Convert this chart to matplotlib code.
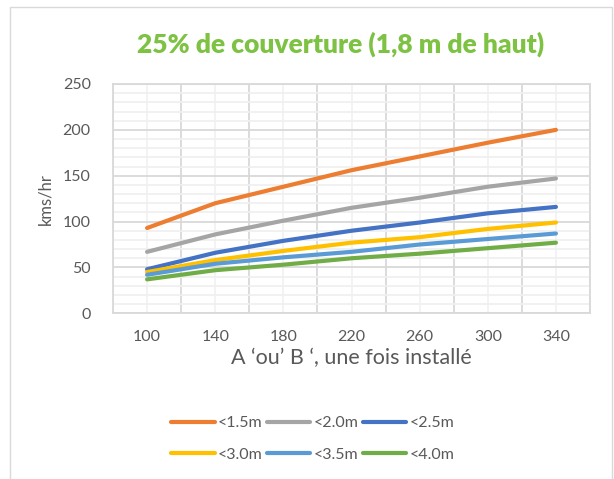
import matplotlib
matplotlib.use("Agg")
import matplotlib.pyplot as plt
from matplotlib.patches import Rectangle
from matplotlib.ticker import MultipleLocator, FixedLocator

# données
categories = ["100", "140", "180", "220", "260", "300", "340"]
serie_15 = [93, 120, 138, 156, 171, 186, 200]
serie_20 = [67, 86, 101, 115, 126, 138, 147]
serie_25 = [48, 66, 79, 90, 99, 109, 116]
serie_30 = [45, 58, 68, 77, 83, 92, 99]
serie_35 = [42, 54, 61, 67, 75, 81, 87]
serie_40 = [37, 47, 53, 60, 65, 71, 77]
noms = ["<1.5m", "<2.0m", "<2.5m", "<3.0m", "<3.5m", "<4.0m"]
couleurs = ["#ED7D31", "#A5A5A5", "#4472C4", "#FFC000", "#5B9BD5", "#70AD47"]

plt.rcParams['font.family'] = ['Lato', 'DejaVu Sans']
gris = "#595959"

fig = plt.figure(figsize=(6.14, 4.79), dpi=100)
ax = fig.add_axes([113/614, 1-313.3/479, (590-113)/614, (313.3-84)/479])

# cadre du graphique
fig.patches.append(Rectangle((10/614, -0.02), 602/614, 1.02-7/479, transform=fig.transFigure,
                             fill=False, edgecolor="#d9d9d9", linewidth=1))

x = list(range(len(categories)))
lignes = []
for vals, nom, c in zip([serie_15, serie_20, serie_25, serie_30, serie_35, serie_40], noms, couleurs):
    l, = ax.plot(x, vals, color=c, linewidth=3, label=nom, solid_capstyle='round')
    lignes.append(l)

ax.set_xlim(-0.5, len(categories) - 0.5)
ax.set_ylim(0, 250)
ax.set_xticks(x)
ax.set_xticklabels(categories)
ax.xaxis.set_minor_locator(FixedLocator([i + 0.5 for i in range(-1, len(categories))]))
ax.yaxis.set_major_locator(MultipleLocator(50))
ax.yaxis.set_minor_locator(MultipleLocator(10))

# quadrillage
ax.grid(True, which='minor', color="#d9d9d9", linewidth=1.3)
ax.grid(True, which='major', axis='x', color="#f2f2f2", linewidth=1.3)
ax.grid(True, which='minor', axis='y', color="#f0f0f0", linewidth=1.3)
ax.grid(True, which='major', axis='y', color="#d9d9d9", linewidth=1.3)
ax.set_axisbelow(True)
for s in ax.spines.values():
    s.set_color("#d9d9d9")
    s.set_linewidth(1.3)
ax.tick_params(which='both', length=0)
ax.tick_params(axis='both', labelsize=11.5, colors=gris, pad=12)
ax.tick_params(axis='y', pad=16)

ax.set_ylabel("kms/hr", fontsize=12, color=gris, labelpad=7)
ax.set_xlabel("A \u2018ou\u2019 B \u2018, une fois install\u00e9", fontsize=15.5, color=gris, labelpad=3)

fig.text(341/614, 1-44/479, "25% de couverture (1,8 m de haut)", ha='center', va='center',
         fontsize=19, fontweight='heavy', color="#7DC242")

# ordre ligne par ligne dans la légende
ordre = [0, 3, 1, 4, 2, 5]
fig.legend([lignes[i] for i in ordre], [noms[i] for i in ordre],
           loc='center', bbox_to_anchor=(313/614, 1-439/479), ncol=3, frameon=False,
           fontsize=11.5, labelcolor=gris, handlelength=2.7, handletextpad=0.2,
           columnspacing=0.3, labelspacing=1.1)

fig.savefig("out.png", dpi=100)
